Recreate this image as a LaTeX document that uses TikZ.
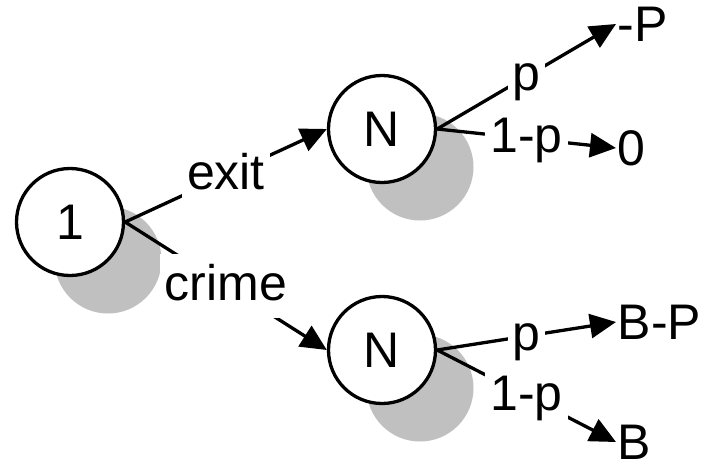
\documentclass[tikz,border=0pt]{standalone}
\usepackage{fontspec}
\setmainfont{Liberation Sans}
\usetikzlibrary{arrows.meta,shadows}
\definecolor{shade}{RGB}{192,192,192}

\begin{document}
\begin{tikzpicture}[x=1pt,y=-1pt,line width=3.3pt,font=\fontsize{50}{60}\selectfont,
  state/.style={circle,draw,fill=white,minimum size=107pt,inner sep=0pt,
    drop shadow={shadow xshift=38pt,shadow yshift=-38pt,fill=shade,opacity=1}},
  lbl/.style={midway,fill=white,inner xsep=5pt,inner ysep=6pt,text height=40pt,text depth=12pt},
  pay/.style={anchor=west,inner sep=0pt},
  go/.style={-{Triangle[length=26pt,width=24pt]}}]
\useasboundingbox (0,0) rectangle (702,464);
\node[state] (start) at (70,222) {1};
\node[state] (nexit) at (382,129) {N};
\node[state] (ncrime) at (382,350) {N};
\node[pay] (minusP) at (616,24) {-P};
\node[pay] (zero) at (616,148) {0};
\node[pay] (BminusP) at (616,322) {B-P};
\node[pay] (Bend) at (616,442) {B};
\draw[go] (start.east) -- node[lbl] {exit} (nexit.west);
\draw[go] (start.east) -- node[lbl] {crime} (ncrime.west);
\draw[go] (nexit.east) -- node[lbl] {p} (minusP.west);
\draw[go] (nexit.east) -- node[lbl] {1-p} (zero.west);
\draw[go] (ncrime.east) -- node[lbl] {p} (BminusP.west);
\draw[go] (ncrime.east) -- node[lbl] {1-p} (Bend.west);
\end{tikzpicture}
\end{document}
